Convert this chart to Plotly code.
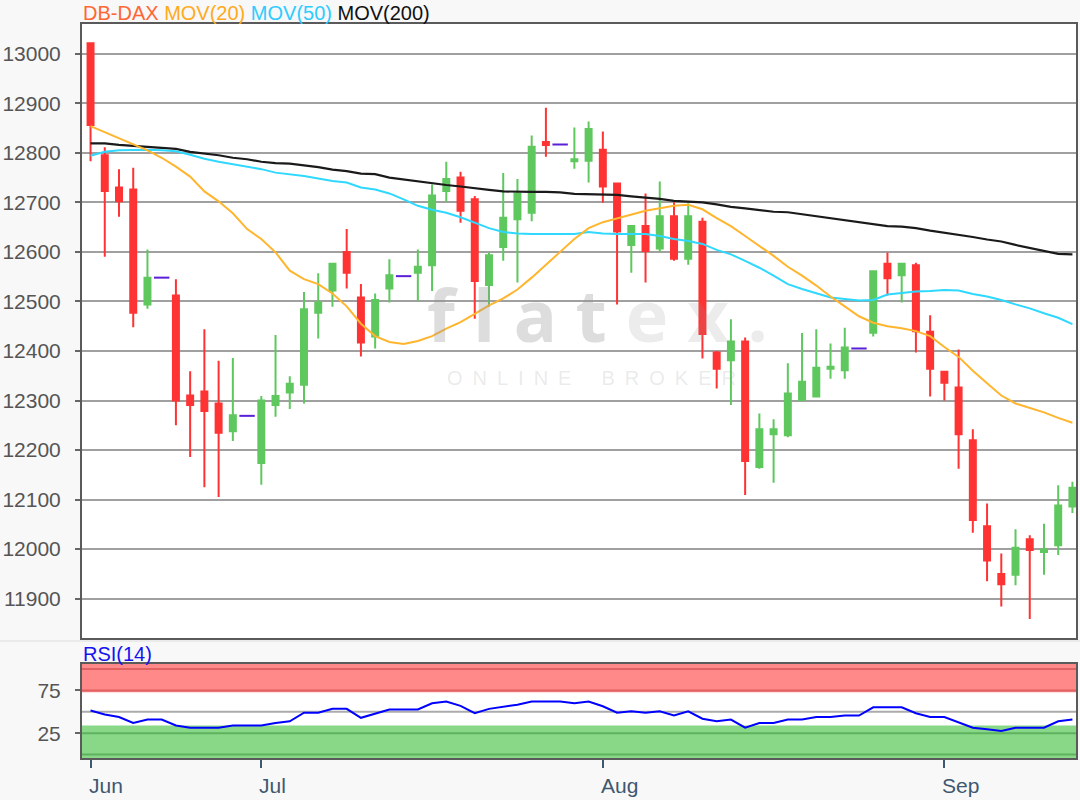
"""DB-DAX daily candles with moving averages and RSI(14) panel."""

import plotly.graph_objects as go

# --- data, index 0 = first trading day shown ---
DAYS = list(range(70))

OPEN = [13021, 12795, 12730, 12726, 12494, 12548, 12512, 12310, 12318, 12294,
        12238, 12269, 12174, 12291, 12316, 12332, 12477, 12522, 12600, 12508,
        12429, 12526, 12551, 12558, 12573, 12723, 12750, 12706, 12533, 12610,
        12666, 12679, 12822, 12817, 12783, 12784, 12806, 12738, 12614, 12652,
        12607, 12672, 12586, 12661, 12397, 12381, 12419, 12166, 12232, 12230,
        12301, 12308, 12364, 12361, 12405, 12437, 12576, 12553, 12573, 12439,
        12358, 12326, 12220, 12046, 11950, 11948, 12020, 11994, 12008, 12086]
HIGH = [13021, 12811, 12767, 12770, 12605, 12548, 12545, 12359, 12444, 12380,
        12386, 12269, 12309, 12432, 12349, 12519, 12557, 12578, 12646, 12535,
        12516, 12585, 12551, 12605, 12736, 12782, 12762, 12713, 12599, 12759,
        12747, 12835, 12891, 12817, 12851, 12863, 12843, 12740, 12654, 12718,
        12742, 12700, 12698, 12669, 12400, 12464, 12427, 12274, 12262, 12375,
        12436, 12444, 12415, 12447, 12405, 12563, 12599, 12578, 12578, 12472,
        12360, 12403, 12242, 12092, 11991, 12040, 12028, 12051, 12129, 12136]
LOW = [12783, 12590, 12671, 12448, 12485, 12548, 12250, 12186, 12125, 12105,
       12218, 12269, 12130, 12267, 12283, 12294, 12425, 12489, 12526, 12389,
       12405, 12498, 12551, 12501, 12521, 12701, 12659, 12465, 12489, 12582,
       12538, 12662, 12792, 12817, 12768, 12740, 12699, 12494, 12558, 12538,
       12600, 12582, 12574, 12385, 12324, 12291, 12109, 12162, 12134, 12226,
       12299, 12306, 12344, 12344, 12405, 12429, 12512, 12498, 12397, 12308,
       12300, 12162, 12033, 11935, 11884, 11927, 11859, 11948, 11988, 12073]
CLOSE = [12856, 12723, 12702, 12477, 12548, 12548, 12300, 12291, 12279, 12235,
         12270, 12269, 12300, 12309, 12334, 12484, 12498, 12576, 12558, 12417,
         12503, 12553, 12551, 12570, 12714, 12747, 12683, 12541, 12593, 12669,
         12718, 12812, 12816, 12817, 12787, 12848, 12732, 12641, 12652, 12602,
         12672, 12586, 12672, 12434, 12364, 12419, 12178, 12242, 12242, 12314,
         12338, 12366, 12368, 12407, 12405, 12561, 12547, 12576, 12440, 12364,
         12336, 12232, 12059, 11977, 11929, 12003, 11998, 11999, 12088, 12124]

MOV20 = [12854, 12842, 12830, 12818, 12805, 12790, 12772, 12752, 12722, 12702,
         12678, 12646, 12626, 12599, 12562, 12545, 12535, 12516, 12490, 12455,
         12430, 12418, 12414, 12420, 12430, 12445, 12458, 12475, 12492, 12506,
         12524, 12548, 12575, 12600, 12626, 12648, 12660, 12668, 12676, 12683,
         12688, 12693, 12695, 12686, 12668, 12652, 12632, 12612, 12592, 12570,
         12552, 12532, 12510, 12490, 12470, 12457, 12450, 12446, 12440, 12430,
         12408, 12388, 12360, 12335, 12310, 12294, 12285, 12276, 12265, 12255]
MOV50 = [12794, 12802, 12805, 12806, 12806, 12805, 12803, 12796, 12788, 12782,
         12777, 12772, 12767, 12760, 12757, 12753, 12748, 12743, 12740, 12730,
         12726, 12718, 12706, 12693, 12685, 12679, 12670, 12659, 12648, 12640,
         12637, 12636, 12636, 12636, 12636, 12640, 12637, 12636, 12636, 12636,
         12632, 12626, 12622, 12616, 12604, 12595, 12582, 12568, 12552, 12535,
         12525, 12516, 12508, 12505, 12502, 12503, 12514, 12517, 12520, 12521,
         12523, 12522, 12515, 12510, 12503, 12494, 12486, 12476, 12467, 12454]
MOV200 = [12819, 12819, 12816, 12814, 12812, 12811, 12808, 12802, 12799, 12795,
          12790, 12787, 12782, 12779, 12778, 12775, 12771, 12766, 12763, 12758,
          12757, 12750, 12746, 12742, 12738, 12735, 12732, 12728, 12725, 12722,
          12721, 12721, 12721, 12720, 12717, 12716, 12716, 12715, 12712, 12710,
          12707, 12703, 12701, 12700, 12696, 12691, 12688, 12684, 12681, 12680,
          12676, 12672, 12668, 12665, 12661, 12656, 12652, 12651, 12648, 12643,
          12639, 12634, 12630, 12625, 12621, 12614, 12608, 12602, 12596, 12595]

RSI14 = [51.5, 47, 44, 37, 41, 41, 34, 31.5, 31.5, 31.5,
         34, 34, 34, 37, 39, 49, 49, 53.5, 53.5, 43,
         47.7, 52.7, 52.7, 52.7, 60, 62, 57, 48.4, 53.5, 56,
         58.4, 62, 62, 62, 60, 62, 56.5, 49, 50.7, 49,
         50.7, 45.7, 50.7, 42, 39, 41, 31.5, 37, 37, 41,
         41, 44, 44, 45.7, 45.7, 55.3, 55.3, 55.3, 48.4, 44,
         44, 38, 31.5, 29.5, 27.6, 31.5, 31.5, 31.5, 39, 41]

PRICE_TICKS = [11900, 12000, 12100, 12200, 12300, 12400, 12500,
               12600, 12700, 12800, 12900, 13000]
RSI_TICKS = [25, 75]
RSI_LINES = [0, 25, 50, 75, 100]
MONTH_TICKS = [0, 12, 36, 60]
MONTH_LABELS = ["Jun", "Jul", "Aug", "Sep"]

# --- styling ---
GREEN = "#5EC85E"
RED = "#FF3333"
PURPLE = "#5A1FD8"
FRAME = "#5A5A5A"
FONT = "Liberation Sans, Arial, sans-serif"
X_RANGE = [-0.6, 69.25]

flat = [i for i in DAYS if OPEN[i] == HIGH[i] == LOW[i] == CLOSE[i]]
real = [i for i in DAYS if i not in flat]

fig = go.Figure()

fig.add_trace(go.Candlestick(
    x=real,
    open=[OPEN[i] for i in real],
    high=[HIGH[i] for i in real],
    low=[LOW[i] for i in real],
    close=[CLOSE[i] for i in real],
    increasing=dict(line=dict(color=GREEN, width=2), fillcolor=GREEN),
    decreasing=dict(line=dict(color=RED, width=2), fillcolor=RED),
    whiskerwidth=0,
    name="DB-DAX",
))
# unchanged days are drawn as a short flat dash
fig.add_trace(go.Scatter(
    x=flat, y=[CLOSE[i] for i in flat], mode="markers",
    marker=dict(symbol="line-ew", size=11, line=dict(color=PURPLE, width=2)),
    name="unchanged",
))
fig.add_trace(go.Scatter(x=DAYS, y=MOV200, mode="lines",
                         line=dict(color="#1A1A1A", width=2.2), name="MOV(200)"))
fig.add_trace(go.Scatter(x=DAYS, y=MOV50, mode="lines",
                         line=dict(color="#2ED8FF", width=2), name="MOV(50)"))
fig.add_trace(go.Scatter(x=DAYS, y=MOV20, mode="lines",
                         line=dict(color="#FFB52E", width=2), name="MOV(20)"))
fig.add_trace(go.Scatter(x=DAYS, y=RSI14, mode="lines", xaxis="x2", yaxis="y2",
                         line=dict(color="#0000FF", width=2), name="RSI(14)"))

# RSI zones and guide lines
shapes = [
    dict(type="rect", xref="x2 domain", yref="y2", x0=0, x1=1, y0=73, y1=106,
         fillcolor="#FF8888", line_width=0, layer="below"),
    dict(type="rect", xref="x2 domain", yref="y2", x0=0, x1=1, y0=-4, y1=34,
         fillcolor="#88D888", line_width=0, layer="below"),
]
for lvl in RSI_LINES:
    col = "#E06262" if lvl > 60 else ("#5EB25E" if lvl < 40 else "#ABABAB")
    shapes.append(dict(type="line", xref="x2 domain", yref="y2", x0=0, x1=1,
                       y0=lvl, y1=lvl, line=dict(color=col, width=2),
                       layer="below"))
# thin separator between the two panels
shapes.append(dict(type="line", xref="paper", yref="paper", x0=-0.09, x1=1.01,
                   y0=0.1594, y1=0.1594, line=dict(color="#DDDDDD", width=1)))

title_text = (
    "<span style='color:#FF6633'>DB-DAX</span> "
    "<span style='color:#FFAA1E'>MOV(20)</span> "
    "<span style='color:#2ECCFF'>MOV(50)</span> "
    "<span style='color:#111111'>MOV(200)</span>"
)
annotations = [
    dict(text=title_text, xref="paper", yref="paper", x=0, y=1, xanchor="left",
         yanchor="middle", xshift=-1, yshift=11, showarrow=False,
         font=dict(family=FONT, size=20)),
    dict(text="RSI(14)", xref="paper", yref="y2 domain", x=0, y=1,
         xanchor="left", yanchor="middle", xshift=-1, yshift=10,
         showarrow=False, font=dict(family=FONT, size=20, color="#1414F0")),
    # watermark
    dict(text="<b><span style='color:rgba(150,150,150,0.32)'>f l a t </span>"
              "<span style='color:rgba(150,150,150,0.18)'>e x .</span></b>",
         xref="paper", yref="paper", x=(598 - 81) / 997, y=(758 - 314) / 734,
         xanchor="center", yanchor="middle", showarrow=False,
         font=dict(family="Noto Sans, sans-serif", size=72)),
    dict(text="\u2002".join("ONLINE") + "\u2002\u2002\u2002" + "\u2002".join("BROKER"),
         xref="paper", yref="paper", x=(592 - 81) / 997, y=(758 - 378) / 734,
         xanchor="center", yanchor="middle", showarrow=False,
         font=dict(family=FONT, size=20, color="rgba(150,150,150,0.2)")),
]
for pos, lab in zip(MONTH_TICKS, MONTH_LABELS):
    annotations.append(dict(
        text=lab, xref="x2", yref="paper", x=pos, y=0, xanchor="left",
        yanchor="middle", xshift=-4, yshift=-27, showarrow=False,
        font=dict(family=FONT, size=21, color="#3E5870"),
    ))

axis_frame = dict(showline=True, mirror=True, linecolor=FRAME, linewidth=2,
                  zeroline=False, fixedrange=True)

fig.update_layout(
    width=1080,
    height=800,
    paper_bgcolor="#F8F8F8",
    plot_bgcolor="#FFFFFF",
    margin=dict(l=81, r=2, t=24, b=42),
    showlegend=False,
    boxgap=0.4,
    shapes=shapes,
    annotations=annotations,
    xaxis=dict(domain=[0, 1], anchor="y", range=X_RANGE, showgrid=False,
               showticklabels=False, rangeslider=dict(visible=False),
               **axis_frame),
    yaxis=dict(domain=[0.1631, 1], anchor="x", range=[11820, 13060],
               tickvals=PRICE_TICKS, tickformat="d", ticks="outside",
               ticklen=5, tickcolor="#666666", tickwidth=1.5,
               ticklabelstandoff=10, gridcolor="#A0A0A0", gridwidth=1.5,
               tickfont=dict(family=FONT, size=21, color="#555555"),
               **axis_frame),
    xaxis2=dict(domain=[0, 1], anchor="y2", range=X_RANGE, showgrid=False,
                tickvals=MONTH_TICKS, ticks="outside", ticklen=8, tickwidth=2,
                tickcolor="#3E5870", showticklabels=False, **axis_frame),
    yaxis2=dict(domain=[0, 0.1281], anchor="x2", range=[-4, 106],
                tickvals=RSI_TICKS, ticks="outside", ticklen=5,
                tickcolor="#666666", tickwidth=1.5, ticklabelstandoff=10,
                showgrid=False,
                tickfont=dict(family=FONT, size=21, color="#555555"),
                **axis_frame),
)

# the page body has a default 8px margin; drop it so the chart sits at 0,0
fig.write_html("out.html", config={"displayModeBar": False},
               post_script="document.body.style.margin='0';")
